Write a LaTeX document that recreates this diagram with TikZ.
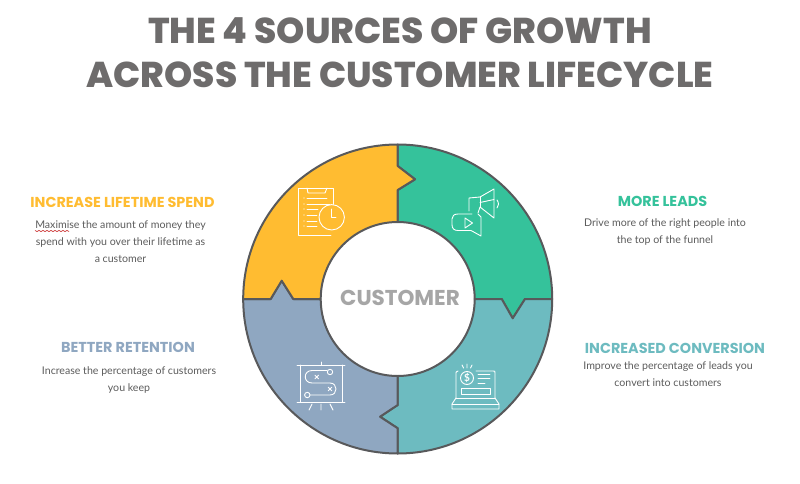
\documentclass[tikz,border=0pt]{standalone}
\usepackage{fontspec}
\setmainfont{Lato}
\newfontfamily\popb{Poppins}[UprightFont=* Bold]
\newfontfamily\popx{Poppins}[UprightFont=* ExtraBold]
\definecolor{ttl}{HTML}{6E6C6C}
\definecolor{bodyc}{HTML}{5C5C5C}
\definecolor{ring}{HTML}{58595B}
\definecolor{cy}{HTML}{FFBC31}
\definecolor{cg}{HTML}{35C29B}
\definecolor{ct}{HTML}{6DBBC0}
\definecolor{cb}{HTML}{8FA7C1}
\definecolor{cust}{HTML}{A6A6A6}
\tikzset{
  titlet/.style={font=\popx\fontsize{35.9}{43.8}\selectfont,text=ttl,align=center,inner sep=0},
  headt/.style={font=\popb\fontsize{14.4}{16}\selectfont,inner sep=0},
  bodyt/.style={font=\fontsize{10.6}{17}\selectfont,text=bodyc,align=center,inner sep=0},
  seg/.style={draw=ring,line width=2pt,line join=round},
  ico/.style={draw=white,line width=0.9pt,line join=round,line cap=round,fill=none},
}
\begin{document}
\begin{tikzpicture}[x=1pt,y=-1pt]
\useasboundingbox (0,0) rectangle (800,484);
\fill[white] (0,0) rectangle (800,484);
\coordinate (c) at (397.7,299);
\def\Ro{154.5}\def\Ri{77}
% segments
\path[seg,fill=cg] (397.7,144.5) arc[start angle=-90,end angle=0,radius=\Ro] -- (525,299) -- (512.7,318.3) -- (501.7,299) -- (474.7,299) arc[start angle=0,end angle=-90,radius=\Ri] -- (397.7,190) -- (415,179.3) -- (397.7,166) -- cycle;
\path[seg,fill=ct] (552.2,299) arc[start angle=0,end angle=90,radius=\Ro] -- (397.7,428.3) -- (380,416.7) -- (397.7,405) -- (397.7,376) arc[start angle=90,end angle=0,radius=\Ri] -- (501.7,299) -- (512.7,318.3) -- (525,299) -- cycle;
\path[seg,fill=cb] (397.7,453.5) arc[start angle=90,end angle=180,radius=\Ro] -- (270.7,299) -- (281.7,280.7) -- (293.3,299) -- (320.7,299) arc[start angle=180,end angle=90,radius=\Ri] -- (397.7,405) -- (380,416.7) -- (397.7,428.3) -- cycle;
\path[seg,fill=cy] (243.2,299) arc[start angle=180,end angle=270,radius=\Ro] -- (397.7,166) -- (415,179.3) -- (397.7,190) -- (397.7,222) arc[start angle=270,end angle=180,radius=\Ri] -- (293.3,299) -- (281.7,280.7) -- (270.7,299) -- cycle;
\node[font=\popb\fontsize{21.5}{24}\selectfont,text=cust,inner sep=0] (customer) at (400,297.5) {CUSTOMER};
% title
\node[titlet] (title) at (400,52.7) {THE 4 SOURCES OF GROWTH\\ACROSS THE CUSTOMER LIFECYCLE};
% left top
\node[headt,text=cy] (h1) at (122.5,202) {INCREASE LIFETIME SPEND};
\node[bodyt] (b1) at (120.5,241.3) {Maximise the amount of money they\\spend with you over their lifetime as\\a customer};
% right top
\node[headt,text=cg] (h2) at (662.5,201) {MORE LEADS};
\node[bodyt] (b2) at (665,232.5) {Drive more of the right people into\\the top of the funnel};
% left bottom
\node[headt,text=cb] (h3) at (128,347.5) {BETTER RETENTION};
\node[bodyt] (b3) at (129,379.7) {Increase the percentage of customers\\you keep};
% right bottom
\node[headt,text=ct] (h4) at (675,348) {INCREASED CONVERSION};
\node[bodyt] (b4) at (668,374.5) {Improve the percentage of leads you\\convert into customers};
% squiggle
\draw[red!75!black,line width=0.5pt] (35,230.5) -- (37,231.5) -- (39,230.5) -- (41,231.5) -- (43,230.5) -- (45,231.5) -- (47,230.5) -- (49,231.5) -- (51,230.5) -- (53,231.5) -- (55,230.5) -- (57,231.5) -- (59,230.5) -- (61,231.5) -- (63,230.5) -- (65,231.5) -- (67,230.5) -- (69,231.5);
% clipboard icon
\draw[ico] (333,204.5) -- (333,188) -- (298,188) -- (298,235) -- (331,235);
\draw[ico] (307,188) -- (308,193) -- (325,193) -- (327,188);
\draw[ico] (331.7,217.3) circle[radius=12.7];
\draw[ico] (331.7,209) -- (331.7,217.5) -- (336,217.5);
\foreach \yy/\xe in {198/327,204/330,209/318,215/317,221/317,226/317}{\draw[ico,line width=.8pt] (307,\yy) -- (\xe,\yy);\fill[white] (304,\yy) circle[radius=.55];}
% megaphone icon
\draw[ico] (469,211) -- (469,198) -- (480,197) -- (494,189) -- (494,218) -- (480,207) -- (478,213);
\draw[ico] (480,197) -- (480,207);
\draw[ico] (480,202.5) -- (494,199.5);
\draw[ico] (497,200) .. controls (499,203) and (499,206) .. (497,208);
\draw[ico] (478,214) -- (481,217) -- (481,236) -- (471,230.5) -- (458,230.5) .. controls (454,230.5) and (452,228.5) .. (452,224.5) -- (452,219) .. controls (452,216) and (454,214) .. (458,214) -- (472,214);
\draw[ico] (465,218) -- (465,228) -- (472.5,223) -- cycle;
% board icon
\draw[ico] (297,365) -- (345,365);
\draw[ico] (321,362) -- (321,365);
\draw[ico] (297,402) -- (345,402);
\draw[ico] (300,365) -- (300,402) (342,365) -- (342,402);
\draw[ico] (312,404) -- (309,410) (321,404) -- (321,410) (330,404) -- (333,410);
\draw[ico] (327,370.5) -- (312,370.5) .. controls (303,370.5) and (303,383) .. (312,383) -- (330,383) .. controls (338,383) and (338,395) .. (330,395) -- (310,395);
\draw[ico] (330,372) circle[radius=2.7];
\draw[ico] (307.3,395) circle[radius=2.7];
\draw[ico] (315,375.2) -- (318.6,378.8) (318.6,375.2) -- (315,378.8);
\draw[ico] (328.2,387.2) -- (331.8,390.8) (331.8,387.2) -- (328.2,390.8);
% laptop icon
\draw[ico] (456,398) -- (456,373) .. controls (456,372) .. (458,371);
\draw[ico] (476,371) -- (493,371) .. controls (495,371) .. (495,373) -- (495,398);
\draw[ico] (456,398) -- (495,398);
\draw[ico] (456,398) -- (452,404) -- (452,409) -- (499,409) -- (499,404) -- (495,398);
\draw[ico] (452,404) -- (499,404);
\draw[ico] (461,388) rectangle (490,394);
\draw[ico] (467,378) circle[radius=6.5];
\node[font=\fontsize{10}{10}\selectfont\bfseries,text=white,inner sep=0] (dollar) at (467,378) {\$};
\draw[ico] (478,374) -- (490,374) (478,378) -- (490,378) (478,383) -- (485,383);
\draw[ico] (467,364) -- (467,368) (462,365) -- (463.5,368) (472,365) -- (470.5,368);
\end{tikzpicture}
\end{document}
